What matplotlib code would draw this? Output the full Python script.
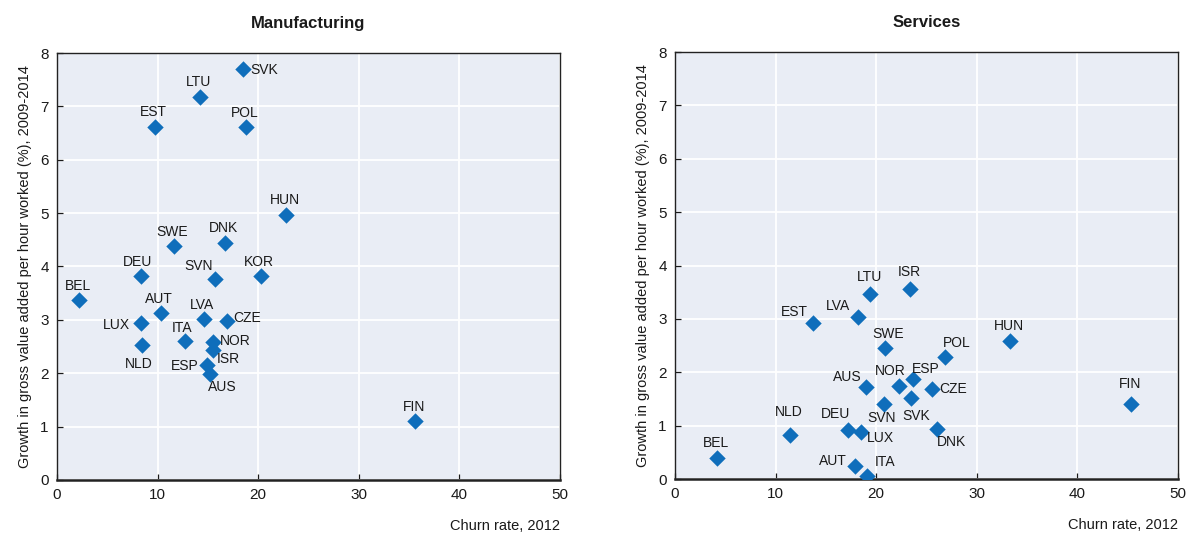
import matplotlib
matplotlib.use("Agg")
import matplotlib.pyplot as plt

plt.rcParams['font.family'] = ['Liberation Sans Narrow', 'Liberation Sans', 'DejaVu Sans']

# Manufacturing panel
man_codes = ['BEL', 'DEU', 'AUT', 'LUX', 'NLD', 'ITA', 'LVA', 'CZE', 'NOR', 'ISR', 'ESP',
             'AUS', 'SVN', 'KOR', 'SWE', 'DNK', 'HUN', 'EST', 'LTU', 'SVK', 'POL', 'FIN']
man_churn = [2.2, 8.4, 10.3, 8.4, 8.5, 12.7, 14.6, 16.9, 15.5, 15.5, 14.9,
             15.2, 15.7, 20.3, 11.6, 16.7, 22.8, 9.7, 14.2, 18.5, 18.8, 35.6]
man_growth = [3.37, 3.82, 3.13, 2.94, 2.53, 2.60, 3.01, 2.98, 2.58, 2.43, 2.15,
              1.99, 3.76, 3.82, 4.38, 4.44, 4.96, 6.61, 7.17, 7.70, 6.61, 1.10]

# Services panel
srv_codes = ['BEL', 'NLD', 'DEU', 'LUX', 'AUT', 'ITA', 'EST', 'LVA', 'LTU', 'ISR', 'SWE',
             'AUS', 'SVN', 'NOR', 'ESP', 'SVK', 'CZE', 'DNK', 'POL', 'HUN', 'FIN']
srv_churn = [4.2, 11.4, 17.2, 18.5, 17.9, 19.1, 13.7, 18.2, 19.4, 23.4, 20.9,
             19.0, 20.8, 22.3, 23.7, 23.5, 25.5, 26.0, 26.8, 33.3, 45.3]
srv_growth = [0.39, 0.82, 0.92, 0.88, 0.24, 0.06, 2.92, 3.03, 3.46, 3.56, 2.45,
              1.72, 1.40, 1.74, 1.87, 1.52, 1.69, 0.94, 2.28, 2.58, 1.40]

# label offsets in pixels (label centre relative to marker)
man_offsets = {'BEL': (-1, 14), 'DEU': (-4, 14), 'AUT': (-2, 14), 'LUX': (-25, -2),
               'NLD': (-4, -19), 'ITA': (-3, 13), 'LVA': (-2, 14), 'CZE': (20, 3),
               'NOR': (22, 1), 'ISR': (15, -9), 'ESP': (-22, -1), 'AUS': (12, -13),
               'SVN': (-16, 13), 'KOR': (-2, 14), 'SWE': (-2, 14), 'DNK': (-1, 15),
               'HUN': (-1, 15), 'EST': (-1, 15), 'LTU': (-1, 15), 'SVK': (21, -1),
               'POL': (-1, 14), 'FIN': (-1, 14)}
srv_offsets = {'BEL': (-1, 15), 'NLD': (-1, 23), 'DEU': (-13, 16), 'LUX': (19, -6),
               'AUT': (-22, 5), 'ITA': (18, 14), 'EST': (-18, 11), 'LVA': (-20, 11),
               'LTU': (-1, 17), 'ISR': (-1, 17), 'SWE': (3, 14), 'AUS': (-19, 10),
               'SVN': (-3, -14), 'NOR': (-9, 15), 'ESP': (12, 10), 'SVK': (5, -18),
               'CZE': (22, 0), 'DNK': (15, -13), 'POL': (12, 14), 'HUN': (-1, 15),
               'FIN': (-1, 20)}

x_ticks = [0, 10, 20, 30, 40, 50]
y_ticks = [0, 1, 2, 3, 4, 5, 6, 7, 8]

bg = '#E9EDF5'
marker_col = '#0F6EBB'
text_col = '#1a1a1a'

fig = plt.figure(figsize=(11.92, 5.36), dpi=100)
ax1 = fig.add_axes([0.0478, 0.1045, 0.422, 0.7966])
ax2 = fig.add_axes([0.5663, 0.1063, 0.422, 0.7966])

panels = [
    (ax1, 'Manufacturing', man_codes, man_churn, man_growth, man_offsets),
    (ax2, 'Services', srv_codes, srv_churn, srv_growth, srv_offsets),
]

for ax, title, codes, xs, ys, offs in panels:
    ax.set_facecolor(bg)
    ax.set_xlim(0, 50)
    ax.set_ylim(0, 8)
    ax.set_xticks(x_ticks)
    ax.set_yticks(y_ticks)
    ax.grid(True, color='white', linewidth=1.3)
    ax.set_axisbelow(True)
    for s in ax.spines.values():
        s.set_color('#222222')
        s.set_linewidth(1.0)
    ax.spines['bottom'].set_linewidth(1.8)
    ax.tick_params(direction='in', length=4, labelsize=11, colors=text_col,
                   width=0.9, pad=6)
    ax.scatter(xs, ys, marker='D', s=70, color=marker_col, zorder=3, linewidths=0)
    for c, x, y in zip(codes, xs, ys):
        dx, dy = offs[c]
        ax.annotate(c, (x, y), xytext=(dx, dy), textcoords='offset pixels',
                    ha='center', va='center', fontsize=10, color=text_col, zorder=4)
    ax.set_title(title, fontsize=12, fontweight='bold', color=text_col, pad=18)
    ax.set_ylabel('Growth in gross value added per hour worked (%), 2009-2014',
                  fontsize=10.5, color=text_col, labelpad=6)
    ax.set_xlabel('Churn rate, 2012', fontsize=10.5, color=text_col, loc='right',
                  labelpad=12)

fig.savefig('out.png', dpi=100, facecolor='white')
